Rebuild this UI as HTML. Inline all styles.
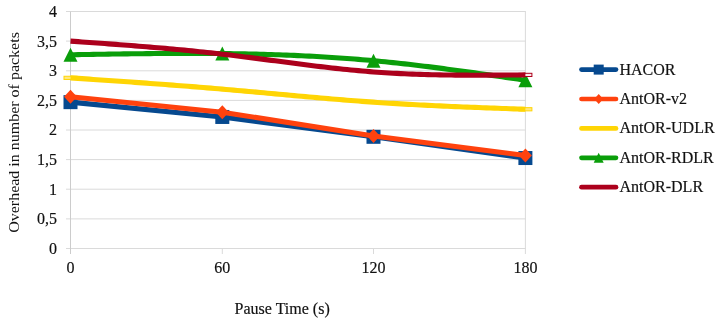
<!DOCTYPE html>
<html><head><meta charset="utf-8"><style>
html,body{margin:0;padding:0;background:#fff;width:720px;height:322px;overflow:hidden;font-family:"Liberation Serif",serif;}
svg{display:block}
</style></head><body>
<svg width="720" height="322" viewBox="0 0 720 322">
<rect width="720" height="322" fill="#fff"/>
<line x1="66" y1="248.5" x2="525.9" y2="248.5" stroke="#dadada" stroke-width="1"/><line x1="66" y1="218.9" x2="525.9" y2="218.9" stroke="#dadada" stroke-width="1"/><line x1="66" y1="189.2" x2="525.9" y2="189.2" stroke="#dadada" stroke-width="1"/><line x1="66" y1="159.6" x2="525.9" y2="159.6" stroke="#dadada" stroke-width="1"/><line x1="66" y1="130.0" x2="525.9" y2="130.0" stroke="#dadada" stroke-width="1"/><line x1="66" y1="100.4" x2="525.9" y2="100.4" stroke="#dadada" stroke-width="1"/><line x1="66" y1="70.8" x2="525.9" y2="70.8" stroke="#dadada" stroke-width="1"/><line x1="66" y1="41.1" x2="525.9" y2="41.1" stroke="#dadada" stroke-width="1"/><line x1="66" y1="11.5" x2="525.9" y2="11.5" stroke="#dadada" stroke-width="1"/><line x1="222.3" y1="248.5" x2="222.3" y2="254" stroke="#dadada" stroke-width="1"/><line x1="373.5" y1="248.5" x2="373.5" y2="254" stroke="#dadada" stroke-width="1"/><line x1="525.4" y1="11.7" x2="525.4" y2="254" stroke="#dadada" stroke-width="1"/>
<line x1="70.5" y1="11.7" x2="70.5" y2="254" stroke="#cccccc" stroke-width="1"/>
<path d="M70.50,102.15 L222.30,116.96 L373.50,136.81 L525.40,158.03" fill="none" stroke="#06498f" stroke-width="5.1" stroke-linejoin="round"/><rect x="63.50" y="95.15" width="14" height="14" fill="#06498f"/><rect x="215.30" y="109.96" width="14" height="14" fill="#06498f"/><rect x="366.50" y="129.81" width="14" height="14" fill="#06498f"/><rect x="518.40" y="151.03" width="14" height="14" fill="#06498f"/><path d="M70.50,96.82 L222.30,112.23 L373.50,135.93 L525.40,155.48" fill="none" stroke="#ff420e" stroke-width="5.1" stroke-linejoin="round"/><path d="M70.50,89.82 L77.00,96.82 L70.50,103.82 L64.00,96.82Z" fill="#ff420e"/><path d="M222.30,105.23 L228.80,112.23 L222.30,119.23 L215.80,112.23Z" fill="#ff420e"/><path d="M373.50,128.93 L380.00,135.93 L373.50,142.93 L367.00,135.93Z" fill="#ff420e"/><path d="M525.40,148.48 L531.90,155.48 L525.40,162.48 L518.90,155.48Z" fill="#ff420e"/><rect x="64.00" y="76.26" width="13" height="3.2" fill="#ffe680" stroke="#ffd504" stroke-width="1"/><rect x="518.90" y="107.66" width="13" height="3.2" fill="#ffe680" stroke="#ffd504" stroke-width="1"/><path d="M70.50,77.86 L74.30,78.12 L78.09,78.38 L81.89,78.64 L85.68,78.90 L89.47,79.16 L93.27,79.42 L97.06,79.68 L100.86,79.94 L104.66,80.20 L108.45,80.47 L112.25,80.73 L116.04,81.00 L119.84,81.26 L123.63,81.53 L127.43,81.80 L131.22,82.06 L135.01,82.34 L138.81,82.61 L142.61,82.88 L146.40,83.16 L150.19,83.43 L153.99,83.71 L157.79,83.99 L161.58,84.27 L165.38,84.56 L169.17,84.84 L172.97,85.13 L176.76,85.42 L180.56,85.72 L184.35,86.01 L188.15,86.31 L191.94,86.61 L195.74,86.91 L199.53,87.22 L203.33,87.53 L207.12,87.84 L210.92,88.15 L214.71,88.47 L218.51,88.79 L222.30,89.12 L226.08,89.44 L229.86,89.77 L233.64,90.10 L237.42,90.44 L241.20,90.78 L244.98,91.12 L248.76,91.46 L252.54,91.80 L256.32,92.14 L260.10,92.49 L263.88,92.83 L267.66,93.18 L271.44,93.53 L275.22,93.87 L279.00,94.22 L282.78,94.57 L286.56,94.91 L290.34,95.26 L294.12,95.60 L297.90,95.94 L301.68,96.29 L305.46,96.63 L309.24,96.96 L313.02,97.30 L316.80,97.63 L320.58,97.96 L324.36,98.29 L328.14,98.61 L331.92,98.93 L335.70,99.25 L339.48,99.56 L343.26,99.87 L347.04,100.17 L350.82,100.47 L354.60,100.76 L358.38,101.05 L362.16,101.34 L365.94,101.61 L369.72,101.89 L373.50,102.15 L377.39,102.42 L381.29,102.68 L385.18,102.93 L389.08,103.18 L392.97,103.42 L396.87,103.66 L400.76,103.89 L404.66,104.11 L408.55,104.33 L412.45,104.55 L416.34,104.76 L420.24,104.96 L424.13,105.16 L428.03,105.35 L431.92,105.55 L435.82,105.73 L439.71,105.91 L443.61,106.09 L447.50,106.27 L451.40,106.44 L455.29,106.61 L459.19,106.77 L463.08,106.93 L466.98,107.09 L470.87,107.25 L474.77,107.40 L478.66,107.55 L482.56,107.70 L486.45,107.85 L490.35,108.00 L494.24,108.14 L498.14,108.29 L502.03,108.43 L505.93,108.57 L509.82,108.71 L513.72,108.85 L517.61,108.99 L521.51,109.12 L525.40,109.26" fill="none" stroke="#ffd504" stroke-width="5.1" stroke-linejoin="round"/><path d="M70.50,54.75 L74.30,54.69 L78.09,54.62 L81.89,54.56 L85.68,54.50 L89.47,54.43 L93.27,54.37 L97.06,54.31 L100.86,54.25 L104.66,54.19 L108.45,54.13 L112.25,54.07 L116.04,54.02 L119.84,53.96 L123.63,53.91 L127.43,53.86 L131.22,53.81 L135.01,53.76 L138.81,53.72 L142.61,53.68 L146.40,53.64 L150.19,53.60 L153.99,53.56 L157.79,53.53 L161.58,53.51 L165.38,53.48 L169.17,53.46 L172.97,53.44 L176.76,53.42 L180.56,53.41 L184.35,53.41 L188.15,53.40 L191.94,53.40 L195.74,53.41 L199.53,53.42 L203.33,53.43 L207.12,53.45 L210.92,53.47 L214.71,53.50 L218.51,53.53 L222.30,53.57 L226.08,53.61 L229.86,53.66 L233.64,53.71 L237.42,53.77 L241.20,53.84 L244.98,53.91 L248.76,53.98 L252.54,54.07 L256.32,54.15 L260.10,54.25 L263.88,54.35 L267.66,54.46 L271.44,54.57 L275.22,54.70 L279.00,54.82 L282.78,54.96 L286.56,55.10 L290.34,55.25 L294.12,55.41 L297.90,55.58 L301.68,55.75 L305.46,55.93 L309.24,56.12 L313.02,56.32 L316.80,56.52 L320.58,56.74 L324.36,56.96 L328.14,57.19 L331.92,57.43 L335.70,57.68 L339.48,57.94 L343.26,58.20 L347.04,58.48 L350.82,58.76 L354.60,59.06 L358.38,59.36 L362.16,59.68 L365.94,60.00 L369.72,60.33 L373.50,60.68 L377.39,61.04 L381.29,61.42 L385.18,61.80 L389.08,62.20 L392.97,62.61 L396.87,63.02 L400.76,63.45 L404.66,63.88 L408.55,64.32 L412.45,64.77 L416.34,65.23 L420.24,65.70 L424.13,66.17 L428.03,66.65 L431.92,67.14 L435.82,67.64 L439.71,68.14 L443.61,68.65 L447.50,69.16 L451.40,69.68 L455.29,70.20 L459.19,70.73 L463.08,71.27 L466.98,71.81 L470.87,72.35 L474.77,72.89 L478.66,73.44 L482.56,74.00 L486.45,74.56 L490.35,75.11 L494.24,75.68 L498.14,76.24 L502.03,76.81 L505.93,77.38 L509.82,77.94 L513.72,78.51 L517.61,79.09 L521.51,79.66 L525.40,80.23" fill="none" stroke="#0a9e0a" stroke-width="5.1" stroke-linejoin="round"/><path d="M70.50,47.75 L77.50,61.75 L63.50,61.75Z" fill="#0a9e0a"/><path d="M222.30,46.57 L229.30,60.57 L215.30,60.57Z" fill="#0a9e0a"/><path d="M373.50,53.68 L380.50,67.68 L366.50,67.68Z" fill="#0a9e0a"/><path d="M525.40,73.23 L532.40,87.23 L518.40,87.23Z" fill="#0a9e0a"/><rect x="518.90" y="73.30" width="13" height="3.2" fill="#fbe8ea" stroke="#ac001c" stroke-width="1"/><path d="M70.50,41.12 L74.30,41.39 L78.09,41.66 L81.89,41.93 L85.68,42.20 L89.47,42.47 L93.27,42.75 L97.06,43.02 L100.86,43.29 L104.66,43.57 L108.45,43.85 L112.25,44.13 L116.04,44.41 L119.84,44.70 L123.63,44.99 L127.43,45.28 L131.22,45.57 L135.01,45.87 L138.81,46.17 L142.61,46.48 L146.40,46.79 L150.19,47.10 L153.99,47.42 L157.79,47.74 L161.58,48.07 L165.38,48.40 L169.17,48.74 L172.97,49.09 L176.76,49.44 L180.56,49.79 L184.35,50.15 L188.15,50.52 L191.94,50.90 L195.74,51.28 L199.53,51.67 L203.33,52.06 L207.12,52.47 L210.92,52.88 L214.71,53.30 L218.51,53.72 L222.30,54.16 L226.08,54.60 L229.86,55.05 L233.64,55.51 L237.42,55.97 L241.20,56.44 L244.98,56.92 L248.76,57.40 L252.54,57.88 L256.32,58.37 L260.10,58.86 L263.88,59.35 L267.66,59.85 L271.44,60.35 L275.22,60.84 L279.00,61.34 L282.78,61.83 L286.56,62.33 L290.34,62.82 L294.12,63.31 L297.90,63.80 L301.68,64.28 L305.46,64.76 L309.24,65.23 L313.02,65.70 L316.80,66.16 L320.58,66.62 L324.36,67.07 L328.14,67.51 L331.92,67.94 L335.70,68.36 L339.48,68.77 L343.26,69.17 L347.04,69.56 L350.82,69.94 L354.60,70.31 L358.38,70.66 L362.16,71.00 L365.94,71.33 L369.72,71.64 L373.50,71.94 L377.39,72.22 L381.29,72.49 L385.18,72.75 L389.08,72.99 L392.97,73.21 L396.87,73.42 L400.76,73.62 L404.66,73.80 L408.55,73.97 L412.45,74.12 L416.34,74.27 L420.24,74.40 L424.13,74.52 L428.03,74.62 L431.92,74.72 L435.82,74.80 L439.71,74.88 L443.61,74.95 L447.50,75.00 L451.40,75.05 L455.29,75.09 L459.19,75.12 L463.08,75.15 L466.98,75.17 L470.87,75.18 L474.77,75.18 L478.66,75.18 L482.56,75.18 L486.45,75.17 L490.35,75.15 L494.24,75.13 L498.14,75.11 L502.03,75.09 L505.93,75.06 L509.82,75.03 L513.72,75.00 L517.61,74.97 L521.51,74.93 L525.40,74.90" fill="none" stroke="#ac001c" stroke-width="5.1" stroke-linejoin="round"/>
<g font-family="'Liberation Serif', serif" font-size="16" fill="#111" stroke="#111" stroke-width="0.18" style="filter:grayscale(1)">
<text x="57" y="253.9" text-anchor="end">0</text><text x="57" y="224.3" text-anchor="end">0,5</text><text x="57" y="194.7" text-anchor="end">1</text><text x="57" y="165.0" text-anchor="end">1,5</text><text x="57" y="135.4" text-anchor="end">2</text><text x="57" y="105.8" text-anchor="end">2,5</text><text x="57" y="76.2" text-anchor="end">3</text><text x="57" y="46.5" text-anchor="end">3,5</text><text x="57" y="16.9" text-anchor="end">4</text>
<text x="70.5" y="272.5" text-anchor="middle">0</text><text x="222.3" y="272.5" text-anchor="middle">60</text><text x="373.5" y="272.5" text-anchor="middle">120</text><text x="525.4" y="272.5" text-anchor="middle">180</text>
<text x="234.6" y="314">Pause Time (s)</text>
<text transform="translate(18.5,232.8) rotate(-90) scale(1,0.95)" stroke-width="0">Overhead in number of packets</text>
</g>
<g font-family="'Liberation Serif', serif" font-size="16" fill="#111" stroke="#111" stroke-width="0.18" style="filter:grayscale(1)">
<text x="619.5" y="74.6">HACOR</text><text x="619.5" y="104.0">AntOR-v2</text><text x="619.5" y="133.4">AntOR-UDLR</text><text x="619.5" y="162.8">AntOR-RDLR</text><text x="619.5" y="192.2">AntOR-DLR</text>
</g>
<line x1="581.5" y1="69.6" x2="616" y2="69.6" stroke="#06498f" stroke-width="4.7" stroke-linecap="round"/><rect x="593.7" y="64.6" width="10" height="10" fill="#06498f"/><line x1="581.5" y1="99.0" x2="616" y2="99.0" stroke="#ff420e" stroke-width="4.7" stroke-linecap="round"/><path d="M598.7,94.0 L603.2,99.0 L598.7,104.0 L594.2,99.0Z" fill="#ff420e"/><line x1="581.5" y1="128.4" x2="616" y2="128.4" stroke="#ffd504" stroke-width="4.7" stroke-linecap="round"/><line x1="581.5" y1="157.8" x2="616" y2="157.8" stroke="#0a9e0a" stroke-width="4.7" stroke-linecap="round"/><path d="M598.7,152.8 L603.7,162.8 L593.7,162.8Z" fill="#0a9e0a"/><line x1="581.5" y1="187.2" x2="616" y2="187.2" stroke="#ac001c" stroke-width="4.7" stroke-linecap="round"/>
</svg>
</body></html>
